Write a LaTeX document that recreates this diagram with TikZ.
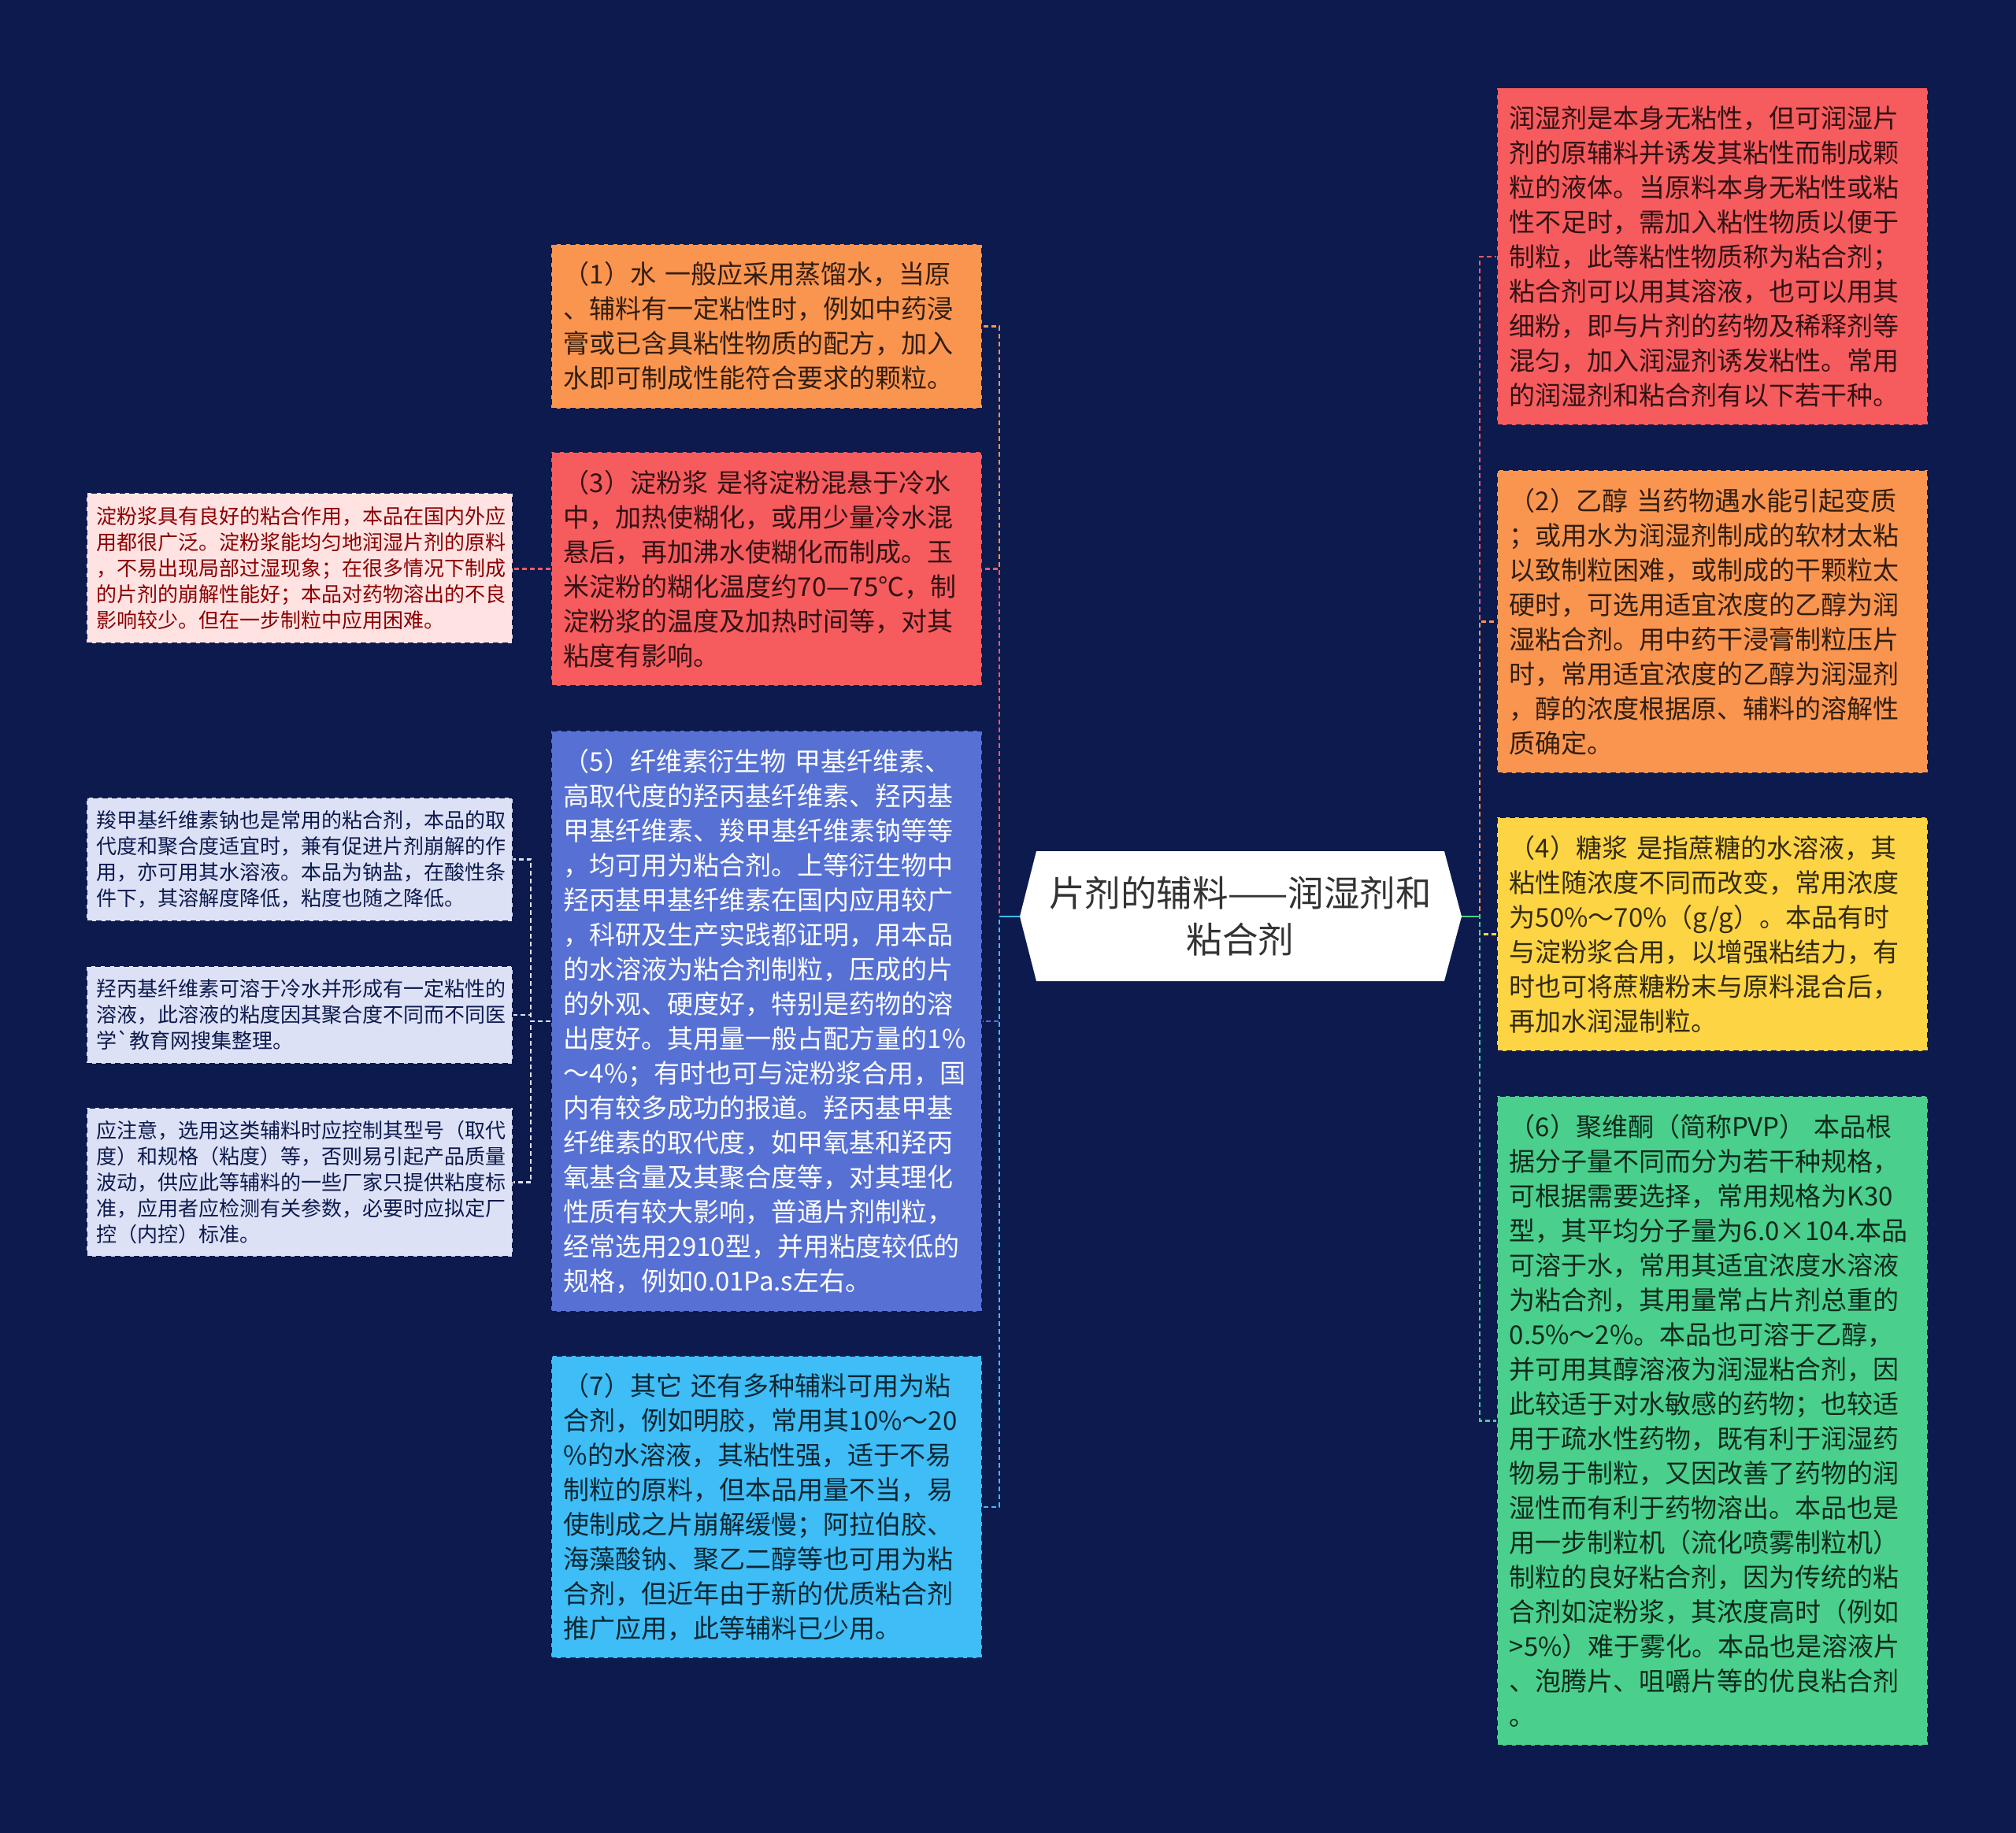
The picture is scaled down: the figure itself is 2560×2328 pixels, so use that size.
\documentclass[tikz,border=0pt]{standalone}
\usepackage{fontspec}
\newfontfamily\cjk{Noto Sans CJK SC}
\definecolor{bg}{HTML}{0C1A4E}
\definecolor{orangebox}{HTML}{FA9550}
\definecolor{redbox}{HTML}{F65B5E}
\definecolor{bluebox}{HTML}{5670D4}
\definecolor{skybox}{HTML}{3EBDF6}
\definecolor{yellowbox}{HTML}{FDD443}
\definecolor{greenbox}{HTML}{4ACF8D}
\definecolor{pinknote}{HTML}{FFE3E3}
\definecolor{lavnote}{HTML}{DDE1F5}
\begin{document}
\begin{tikzpicture}[x=1pt,y=-1pt,
    card/.style={rectangle,anchor=north west,inner xsep=16pt,inner ysep=0pt,text width=515pt,align=left,
      font=\cjk\fontsize{33}{44}\selectfont,draw=bg,line width=1.5pt,dash pattern=on 7pt off 5pt},
    note/.style={card,inner xsep=13pt,font=\cjk\fontsize{26}{33}\selectfont},
    link/.style={line width=2.5pt,dash pattern=on 6pt off 4pt}]
    \fill [bg] (0,0) rectangle (2560,2328);
    \useasboundingbox (0,0) rectangle (2560,2328);

    % centre topic
    \fill [white] (1295,1164) -- (1316,1081) -- (1834,1081) -- (1856,1164) -- (1834,1246) -- (1316,1246) -- cycle;
    \node [minimum width=518pt,minimum height=165pt,align=center,text=black!80,
      font=\cjk\fontsize{45.5}{59}\selectfont] (main) at (1575,1164) {片剂的辅料——润湿剂和\\粘合剂};
    \coordinate (mainL) at (1295,1164);
    \coordinate (mainR) at (1856,1164);

    % left side
    \node [card,fill=orangebox,text=black!80!orangebox,minimum height=209pt] (water) at (699,309)
      {（1）水~一般应采用蒸馏水，当原\\、辅料有一定粘性时，例如中药浸\\膏或已含具粘性物质的配方，加入\\水即可制成性能符合要求的颗粒。};
    \node [card,fill=redbox,text=black!80!redbox,minimum height=297pt] (starch) at (699,573)
      {（3）淀粉浆~是将淀粉混悬于冷水\\中，加热使糊化，或用少量冷水混\\悬后，再加沸水使糊化而制成。玉\\米淀粉的糊化温度约70—75℃，制\\淀粉浆的温度及加热时间等，对其\\粘度有影响。};
    \node [card,fill=bluebox,text=white,minimum height=738pt] (cellulose) at (699,927)
      {（5）纤维素衍生物~甲基纤维素、\\高取代度的羟丙基纤维素、羟丙基\\甲基纤维素、羧甲基纤维素钠等等\\，均可用为粘合剂。上等衍生物中\\羟丙基甲基纤维素在国内应用较广\\，科研及生产实践都证明，用本品\\的水溶液为粘合剂制粒，压成的片\\的外观、硬度好，特别是药物的溶\\出度好。其用量一般占配方量的1\%\\～4\%；有时也可与淀粉浆合用，国\\内有较多成功的报道。羟丙基甲基\\纤维素的取代度，如甲氧基和羟丙\\氧基含量及其聚合度等，对其理化\\性质有较大影响，普通片剂制粒，\\经常选用2910型，并用粘度较低的\\规格，例如0.01Pa.s左右。};
    \node [card,fill=skybox,text=black!80!skybox,minimum height=384pt] (others) at (699,1721)
      {（7）其它~还有多种辅料可用为粘\\合剂，例如明胶，常用其10\%～20\\\%的水溶液，其粘性强，适于不易\\制粒的原料，但本品用量不当，易\\使制成之片崩解缓慢；阿拉伯胶、\\海藻酸钠、聚乙二醇等也可用为粘\\合剂，但近年由于新的优质粘合剂\\推广应用，此等辅料已少用。};

    % notes
    \node [note,fill=pinknote,text=red!55!black,minimum height=191pt] (starchnote) at (109,625)
      {淀粉浆具有良好的粘合作用，本品在国内外应\\用都很广泛。淀粉浆能均匀地润湿片剂的原料\\，不易出现局部过湿现象；在很多情况下制成\\的片剂的崩解性能好；本品对药物溶出的不良\\影响较少。但在一步制粒中应用困难。};
    \node [note,fill=lavnote,text=bg,minimum height=157pt] (cmcnote) at (109,1012)
      {羧甲基纤维素钠也是常用的粘合剂，本品的取\\代度和聚合度适宜时，兼有促进片剂崩解的作\\用，亦可用其水溶液。本品为钠盐，在酸性条\\件下，其溶解度降低，粘度也随之降低。};
    \node [note,fill=lavnote,text=bg,minimum height=124pt] (hpcnote) at (109,1226)
      {羟丙基纤维素可溶于冷水并形成有一定粘性的\\溶液，此溶液的粘度因其聚合度不同而不同医\\学\symbol{96}教育网搜集整理。};
    \node [note,fill=lavnote,text=bg,minimum height=189pt] (warnnote) at (109,1406)
      {应注意，选用这类辅料时应控制其型号（取代\\度）和规格（粘度）等，否则易引起产品质量\\波动，供应此等辅料的一些厂家只提供粘度标\\准，应用者应检测有关参数，必要时应拟定厂\\控（内控）标准。};

    % right side
    \node [card,fill=redbox,text=black!80!redbox,minimum height=428pt] (wetting) at (1900,111)
      {润湿剂是本身无粘性，但可润湿片\\剂的原辅料并诱发其粘性而制成颗\\粒的液体。当原料本身无粘性或粘\\性不足时，需加入粘性物质以便于\\制粒，此等粘性物质称为粘合剂；\\粘合剂可以用其溶液，也可以用其\\细粉，即与片剂的药物及稀释剂等\\混匀，加入润湿剂诱发粘性。常用\\的润湿剂和粘合剂有以下若干种。};
    \node [card,fill=orangebox,text=black!80!orangebox,minimum height=385pt] (ethanol) at (1900,596)
      {（2）乙醇~当药物遇水能引起变质\\；或用水为润湿剂制成的软材太粘\\以致制粒困难，或制成的干颗粒太\\硬时，可选用适宜浓度的乙醇为润\\湿粘合剂。用中药干浸膏制粒压片\\时，常用适宜浓度的乙醇为润湿剂\\，醇的浓度根据原、辅料的溶解性\\质确定。};
    \node [card,fill=yellowbox,text=black!80!yellowbox,minimum height=297pt] (syrup) at (1900,1037)
      {（4）糖浆~是指蔗糖的水溶液，其\\粘性随浓度不同而改变，常用浓度\\为50\%～70\%（g/g）。本品有时\\与淀粉浆合用，以增强粘结力，有\\时也可将蔗糖粉末与原料混合后，\\再加水润湿制粒。};
    \node [card,fill=greenbox,text=black!80!greenbox,minimum height=825pt] (pvp) at (1900,1391)
      {（6）聚维酮（简称PVP）~本品根\\据分子量不同而分为若干种规格，\\可根据需要选择，常用规格为K30\\型，其平均分子量为6.0×104.本品\\可溶于水，常用其适宜浓度水溶液\\为粘合剂，其用量常占片剂总重的\\0.5\%～2\%。本品也可溶于乙醇，\\并可用其醇溶液为润湿粘合剂，因\\此较适于对水敏感的药物；也较适\\用于疏水性药物，既有利于润湿药\\物易于制粒，又因改善了药物的润\\湿性而有利于药物溶出。本品也是\\用一步制粒机（流化喷雾制粒机）\\制粒的良好粘合剂，因为传统的粘\\合剂如淀粉浆，其浓度高时（例如\\>5\%）难于雾化。本品也是溶液片\\、泡腾片、咀嚼片等的优良粘合剂\\。};

    % connectors
    \draw [link,orangebox] (mainL) -- ++(-26,0) |- (water.east);
    \draw [link,redbox] (mainL) -- ++(-26,0) |- (starch.east);
    \draw [link,bluebox] (mainL) -- ++(-26,0) |- (cellulose.east);
    \draw [link,skybox] (mainL) -- ++(-26,0) |- (others.east);
    \draw [skybox,line width=2.5pt] (mainL) -- ++(-26,0);

    \draw [link,redbox] (mainR) -- ++(23,0) |- (wetting.west);
    \draw [link,orangebox] (mainR) -- ++(23,0) |- (ethanol.west);
    \draw [link,yellowbox] (mainR) -- ++(23,0) |- (syrup.west);
    \draw [link,greenbox] (mainR) -- ++(23,0) |- (pvp.west);
    \draw [greenbox,line width=2.5pt] (mainR) -- ++(23,0);

    \draw [link,redbox] (starch.west) -- (starch.west -| starchnote.east);
    \draw [link,lavnote] (cellulose.west) -- ++(-25,0) |- (cmcnote.east);
    \draw [link,lavnote] (cellulose.west) -- ++(-25,0) |- (hpcnote.east);
    \draw [link,lavnote] (cellulose.west) -- ++(-25,0) |- (warnnote.east);
\end{tikzpicture}
\end{document}
